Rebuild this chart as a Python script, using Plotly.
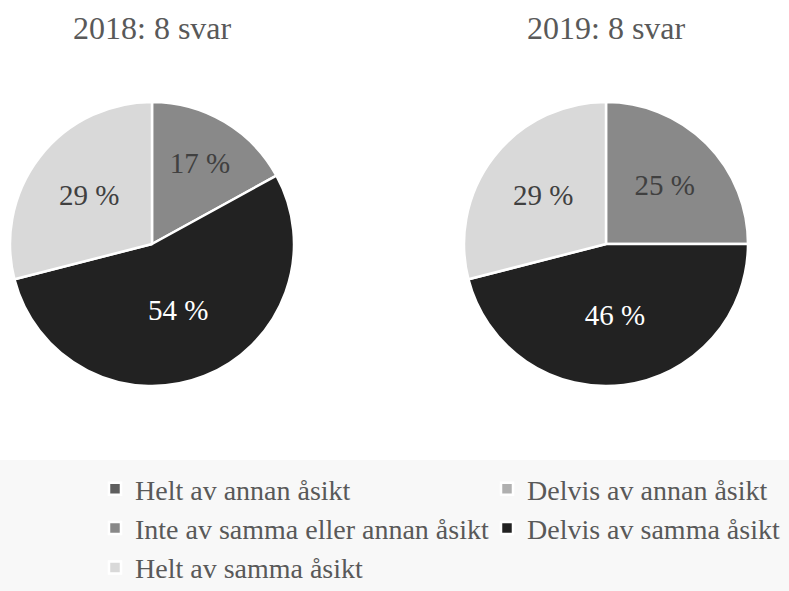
import plotly.graph_objects as go

labels = ["Helt av annan åsikt", "Delvis av annan åsikt", "Inte av samma eller annan åsikt",
          "Delvis av samma åsikt", "Helt av samma åsikt"]
values_2018 = [0, 0, 17, 54, 29]
values_2019 = [0, 0, 25, 46, 29]
titles = ["2018: 8 svar", "2019: 8 svar"]
colors = ["#5f5f5f", "#b0b0b0", "#898989", "#222222", "#d9d9d9"]
text_colors = ["#404040", "#404040", "#404040", "#ffffff", "#404040"]

W, H = 789, 591
FONT = "Liberation Serif, Times New Roman, serif"

def txt(vals):
    return [f"{v} %" if v else "" for v in vals]

def dom(cx, cy, r):
    return dict(x=[(cx - r) / W, (cx + r) / W], y=[1 - (cy + r) / H, 1 - (cy - r) / H])

fig = go.Figure()
for vals, (cx, cy) in [(values_2018, (152, 244)), (values_2019, (606, 244))]:
    fig.add_trace(go.Pie(
        labels=labels, values=vals, text=txt(vals), textinfo="text",
        sort=False, direction="clockwise", rotation=0,
        marker=dict(colors=colors, line=dict(color="white", width=2.5)),
        textposition="inside", insidetextorientation="horizontal",
        textfont=dict(family=FONT, size=29, color=text_colors),
        domain=dom(cx, cy, 142), hoverinfo="label+percent",
    ))

for t, cx in zip(titles, [152, 606]):
    fig.add_annotation(text=t, x=cx / W, y=1 - 28 / H, xref="paper", yref="paper",
                       xanchor="center", yanchor="middle",
                       showarrow=False, font=dict(family=FONT, size=32, color="#595959"))

fig.add_shape(type="rect", xref="paper", yref="paper", x0=0, x1=1, y0=0, y1=1 - 460 / H,
              fillcolor="#f8f8f8", line=dict(width=0), layer="below")

fig.update_layout(
    width=W, height=H, margin=dict(l=0, r=0, t=0, b=0, autoexpand=False),
    paper_bgcolor="white", plot_bgcolor="white",
    showlegend=True,
    legend=dict(orientation="h", xref="container", yref="container",
                x=95 / W, xanchor="left", y=1 - 464 / H, yanchor="top",
                entrywidth=347, entrywidthmode="pixels", traceorder="normal",
                font=dict(family=FONT, size=28, color="#595959"), bgcolor="rgba(0,0,0,0)"),
)
fig.write_html("out.html", config={"displayModeBar": False},
               post_script="document.body.style.margin='0';")
